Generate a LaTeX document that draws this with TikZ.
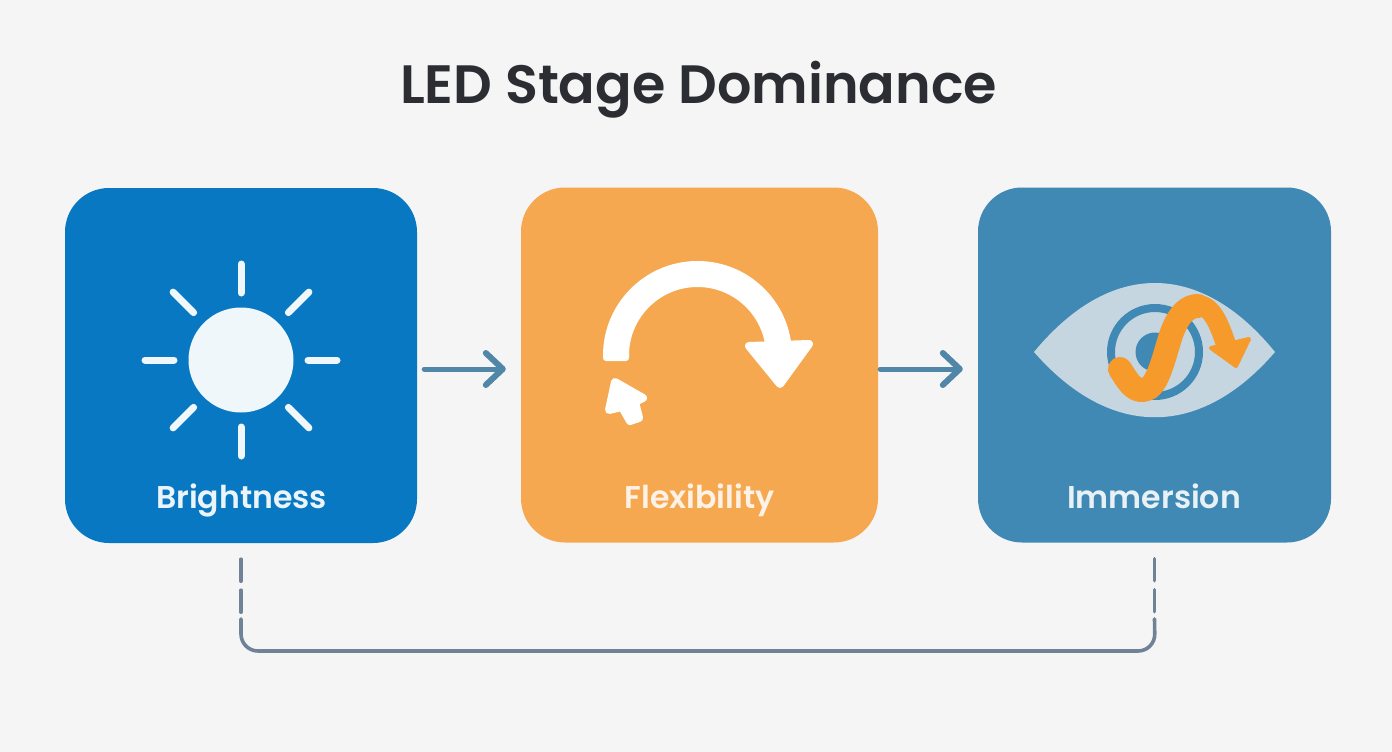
\documentclass[tikz,border=0pt]{standalone}
\usepackage{fontspec}
\setmainfont{Poppins}
\newfontfamily\titlefont{Poppins SemiBold}
\newfontfamily\labelfont{Poppins SemiBold}
\usetikzlibrary{arrows.meta}
\definecolor{pagegray}{HTML}{F5F5F6}
\definecolor{titleink}{HTML}{2B2D33}
\definecolor{brightblue}{HTML}{0878C2}
\definecolor{flexorange}{HTML}{F5A850}
\definecolor{immerseblue}{HTML}{4089B4}
\definecolor{eyewhite}{HTML}{C5D6E0}
\definecolor{waveorange}{HTML}{F59A2B}
\definecolor{flowink}{HTML}{5087A8}
\definecolor{linkink}{HTML}{6F8296}
\begin{document}
\begin{tikzpicture}[x=1pt, y=-1pt, line join=round, line cap=round,
  cardbox/.style={rounded corners=44pt, inner sep=0pt, minimum height=355pt},
  cardlabel/.style={font=\labelfont\fontsize{31.5}{36}\selectfont, inner sep=0pt, anchor=base},
  flowarrow/.style={draw=flowink, line width=5pt, -{Straight Barb[round,length=17pt,width=32pt,line width=6pt]}, shorten >=15pt},
  linkline/.style={draw=linkink, line width=3.6pt}]
\fill[pagegray] (0,0) rectangle (1392,752);
\useasboundingbox (0,0) rectangle (1392,752);
\node[font=\titlefont\fontsize{54}{60}\selectfont, text=titleink, inner sep=0pt, anchor=base] (title) at (698.5,103) {LED Stage Dominance};
\node[cardbox, fill=brightblue, minimum width=352pt] (bright) at (241,365.5) {};
\node[cardbox, fill=flexorange, minimum width=357pt] (flex) at (699.5,365) {};
\node[cardbox, fill=immerseblue, minimum width=353pt] (immerse) at (1154.5,365) {};
\node[cardlabel, text=white!92!brightblue] (brightlabel) at (241.5,508) {Brightness};
\node[cardlabel, text=white!85!flexorange] (flexlabel) at (699.5,508) {Flexibility};
\node[cardlabel, text=white!88!immerseblue] (immerselabel) at (1154,508) {Immersion};
% arrows between the cards
\draw[flowarrow, shorten <=7pt] ([yshift=-3.5pt]bright.east) -- ([yshift=-4pt]flex.west);
\draw[flowarrow, shorten <=2pt] ([yshift=-4pt]flex.east) -- ([yshift=-4pt]immerse.west);
% sun
\fill[white!94!brightblue] (241,360) circle (52.5);
\foreach \a in {0,45,...,315}
  \draw[white!94!brightblue, line width=7pt] (241,360) ++(\a:67) -- ++(\a:29);
% turn arrow
\draw[white, line width=26pt, line cap=butt] (616,355.5) arc[start angle=180, end angle=358, radius=81.5];
\fill[white, rounded corners=3pt] (603,350) rectangle (629,361);
\filldraw[white, line width=8pt] (749,346) -- (809,344) -- (780,384) -- cycle;
\filldraw[white, line width=8pt] (615,382) -- (643,398) -- (635,402) -- (639,418) -- (630,421) -- (622,407) -- (609,410) -- cycle;
% eye
\fill[eyewhite] (1034,352) .. controls (1110,260) and (1200,260) .. (1275,352) .. controls (1200,439) and (1110,439) .. (1034,352) -- cycle;
\draw[immerseblue, line width=8pt] (1155,352) circle (44);
\fill[immerseblue] (1155,352) circle (19.5);
\draw[waveorange, line width=24pt] (1120,369) .. controls (1127,380) and (1133,391) .. (1143,390) .. controls (1157,390) and (1163,360) .. (1171,335) .. controls (1179,312) and (1189,306) .. (1198,306);
\draw[waveorange, line width=20pt, line cap=butt] (1198,305) .. controls (1214,306) and (1221,330) .. (1228,350);
\filldraw[waveorange, line width=4pt] (1211,348) -- (1249,339) -- (1236,366) -- cycle;
% link under the cards
\coordinate (linkleft) at (bright.south |- 0,619);
\coordinate (linkright) at (immerse.south |- 0,619);
\draw[linkline, dash pattern=on 22pt off 9pt, shorten <=16pt] (bright.south) -- (linkleft);
\draw[linkline, dash pattern=on 22pt off 9pt, shorten <=16pt] (immerse.south) -- (linkright);
\draw[linkline, rounded corners=17pt] (linkleft) -- (241,651) -- (1155,651) -- (linkright);
\end{tikzpicture}
\end{document}
